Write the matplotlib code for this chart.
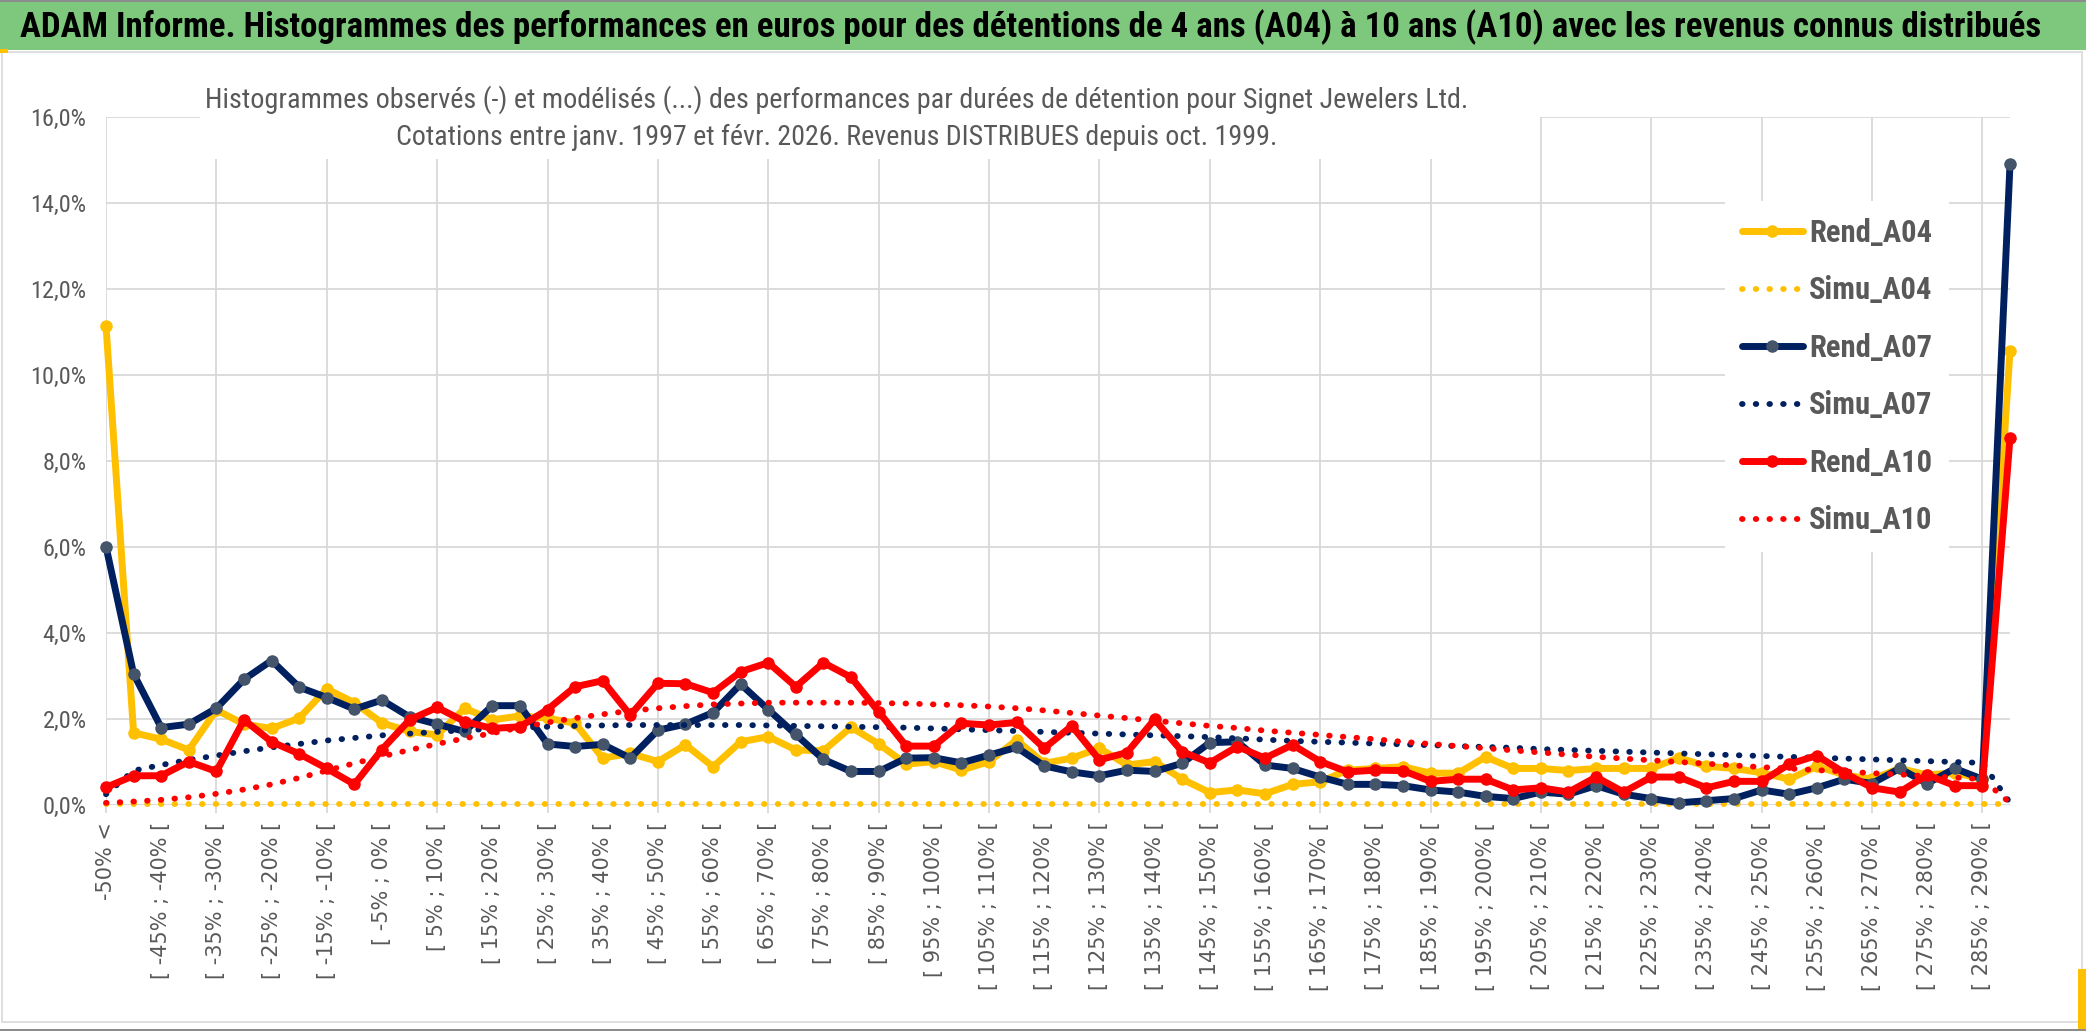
import logging
import matplotlib
matplotlib.use("Agg")
import matplotlib.pyplot as plt
from matplotlib.patches import Rectangle
from matplotlib.ticker import FuncFormatter

logging.getLogger("matplotlib.font_manager").setLevel(logging.ERROR)

# ---------------- data ----------------
categories = ["-50% <"] + ["[ %d%% ; %d%% [" % (a, a + 5) for a in range(-50, 290, 5)] + ["> 290%"]

rend_a04 = [11.15, 1.68, 1.53, 1.28, 2.21, 1.88, 1.78, 2.02, 2.70, 2.38,
            1.91, 1.71, 1.63, 2.25, 1.98, 2.07, 2.02, 1.90, 1.09, 1.20,
            1.01, 1.40, 0.89, 1.47, 1.59, 1.28, 1.26, 1.81, 1.42, 0.95,
            1.01, 0.81, 1.01, 1.51, 0.97, 1.09, 1.32, 0.93, 1.01, 0.60,
            0.29, 0.35, 0.26, 0.48, 0.54, 0.81, 0.85, 0.89, 0.74, 0.74,
            1.12, 0.85, 0.85, 0.80, 0.85, 0.85, 0.85, 1.10, 0.90, 0.85,
            0.75, 0.60, 0.90, 0.70, 0.60, 0.85, 0.70, 0.75, 0.60, 10.56]

simu_a04 = [0.03, 0.03, 0.03, 0.03, 0.03, 0.03, 0.03, 0.03, 0.03, 0.03,
            0.03, 0.03, 0.03, 0.03, 0.03, 0.03, 0.03, 0.03, 0.03, 0.03,
            0.03, 0.03, 0.03, 0.03, 0.03, 0.03, 0.03, 0.03, 0.03, 0.03,
            0.03, 0.03, 0.03, 0.03, 0.03, 0.03, 0.03, 0.03, 0.03, 0.03,
            0.03, 0.03, 0.03, 0.03, 0.03, 0.03, 0.03, 0.03, 0.03, 0.03,
            0.03, 0.03, 0.03, 0.03, 0.03, 0.03, 0.03, 0.03, 0.03, 0.03,
            0.03, 0.03, 0.03, 0.03, 0.03, 0.03, 0.03, 0.03, 0.03, 0.03]

rend_a07 = [6.01, 3.05, 1.80, 1.88, 2.25, 2.92, 3.36, 2.74, 2.50, 2.23,
            2.44, 2.05, 1.88, 1.71, 2.31, 2.31, 1.42, 1.36, 1.41, 1.09,
            1.74, 1.88, 2.15, 2.81, 2.22, 1.64, 1.06, 0.78, 0.78, 1.09,
            1.10, 0.98, 1.16, 1.34, 0.91, 0.77, 0.68, 0.81, 0.78, 0.97,
            1.45, 1.47, 0.93, 0.85, 0.65, 0.48, 0.48, 0.45, 0.35, 0.30,
            0.20, 0.15, 0.30, 0.25, 0.45, 0.25, 0.15, 0.05, 0.10, 0.15,
            0.35, 0.25, 0.40, 0.60, 0.50, 0.85, 0.50, 0.85, 0.60, 14.90]

simu_a07 = [0.25, 0.80, 0.93, 1.05, 1.15, 1.25, 1.34, 1.42, 1.50, 1.56,
            1.62, 1.66, 1.70, 1.74, 1.77, 1.80, 1.82, 1.84, 1.85, 1.86,
            1.86, 1.86, 1.86, 1.86, 1.85, 1.84, 1.83, 1.82, 1.81, 1.80,
            1.78, 1.76, 1.74, 1.72, 1.70, 1.68, 1.66, 1.64, 1.62, 1.60,
            1.58, 1.55, 1.52, 1.49, 1.47, 1.45, 1.43, 1.41, 1.39, 1.37,
            1.35, 1.33, 1.30, 1.28, 1.26, 1.24, 1.22, 1.20, 1.18, 1.16,
            1.14, 1.12, 1.10, 1.08, 1.06, 1.04, 1.02, 1.00, 0.98, 0.05]

rend_a10 = [0.41, 0.68, 0.68, 1.01, 0.78, 1.98, 1.47, 1.19, 0.85, 0.48,
            1.29, 1.98, 2.27, 1.94, 1.78, 1.82, 2.22, 2.75, 2.89, 2.09,
            2.83, 2.82, 2.61, 3.10, 3.31, 2.75, 3.31, 2.97, 2.17, 1.37,
            1.37, 1.90, 1.86, 1.92, 1.32, 1.84, 1.05, 1.22, 1.99, 1.24,
            0.98, 1.36, 1.09, 1.40, 1.01, 0.77, 0.81, 0.80, 0.55, 0.60,
            0.60, 0.35, 0.40, 0.30, 0.65, 0.30, 0.65, 0.65, 0.40, 0.55,
            0.55, 0.95, 1.15, 0.75, 0.40, 0.30, 0.70, 0.45, 0.45, 8.54]

simu_a10 = [0.05, 0.08, 0.12, 0.18, 0.26, 0.36, 0.48, 0.63, 0.80, 0.97,
            1.13, 1.28, 1.42, 1.55, 1.67, 1.80, 1.92, 2.02, 2.11, 2.19,
            2.25, 2.30, 2.34, 2.36, 2.38, 2.38, 2.38, 2.38, 2.37, 2.36,
            2.34, 2.32, 2.29, 2.25, 2.20, 2.14, 2.08, 2.02, 1.96, 1.90,
            1.84, 1.79, 1.73, 1.68, 1.63, 1.58, 1.53, 1.47, 1.42, 1.37,
            1.32, 1.27, 1.22, 1.17, 1.12, 1.08, 1.04, 1.00, 0.96, 0.92,
            0.88, 0.85, 0.81, 0.78, 0.74, 0.71, 0.67, 0.64, 0.60, 0.05]

series_names = ["Rend_A04", "Simu_A04", "Rend_A07", "Simu_A07", "Rend_A10", "Simu_A10"]
y_ticks = [0, 2, 4, 6, 8, 10, 12, 14, 16]

main_title = ("ADAM Informe. Histogrammes des performances en euros pour des détentions "
              "de 4 ans (A04) à 10 ans (A10) avec les revenus connus distribués")
chart_title_1 = ("Histogrammes observés (-) et modélisés (...) des performances par durées "
                 "de détention pour Signet Jewelers Ltd.")
chart_title_2 = "Cotations entre janv. 1997 et févr. 2026. Revenus DISTRIBUES depuis oct. 1999."

# ---------------- style ----------------
W, H, DPI = 2086, 1031, 100
GREEN = "#7DC87D"
YELLOW = "#FFC000"
NAVY = "#002060"
NAVY_MK = "#44546A"
RED = "#FF0000"
GRID = "#D9D9D9"
TXT = "#595959"
NARROW = ["Liberation Sans Narrow", "Roboto Condensed", "Open Sans Condensed",
          "Open Sans", "DejaVu Sans"]
plt.rcParams["font.family"] = NARROW


def fx(px):
    return px / W


def fy(py):
    return 1 - py / H


fig = plt.figure(figsize=(W / DPI, H / DPI), dpi=DPI, facecolor="white")

# top band + frame
fig.add_artist(Rectangle((0, fy(50)), 1, 50 / H, transform=fig.transFigure,
                         fc=GREEN, ec="none", zorder=0))
fig.add_artist(Rectangle((0, fy(2)), 1, 2 / H, transform=fig.transFigure,
                         fc="#8C8C8C", ec="none", zorder=0))
fig.add_artist(Rectangle((fx(2), fy(1022)), (2082 - 2) / W, (1022 - 52) / H,
                         transform=fig.transFigure, fc="none", ec=GRID, lw=1.2, zorder=0))
fig.add_artist(Rectangle((0, 0), 1, 2 / H, transform=fig.transFigure,
                         fc="#8C8C8C", ec="none", zorder=0))
fig.add_artist(Rectangle((fx(2078), fy(1029)), 8 / W, 60 / H, transform=fig.transFigure,
                         fc=YELLOW, ec="none", zorder=0))
fig.add_artist(Rectangle((fx(0), fy(53)), 8 / W, 4 / H, transform=fig.transFigure,
                         fc=YELLOW, ec="none", zorder=0))

t_main = fig.text(fx(20), fy(27), main_title, ha="left", va="center",
                  fontsize=26, fontweight="bold", color="black")

# ---------------- axes ----------------
ax = fig.add_axes([fx(106), fy(805), (2010 - 106) / W, (805 - 117) / H])
ax.set_facecolor("none")
n = len(categories)
x = list(range(n))
ax.set_xlim(0, n - 1)
ax.set_ylim(y_ticks[0], y_ticks[-1])
for s in ax.spines.values():
    s.set_visible(False)
ax.set_axisbelow(True)

ax.set_yticks(y_ticks)
ax.yaxis.set_major_formatter(FuncFormatter(lambda v, p: ("%.1f" % v).replace(".", ",") + "%"))
ax.tick_params(axis="y", length=0, pad=14, labelsize=17.5, labelcolor=TXT)
ax.yaxis.grid(True, color=GRID, lw=1.3)

ax.set_xticks(x[::2])
ax.set_xticklabels(categories[::2], rotation=90, fontfamily="DejaVu Sans",
                   fontsize=15, color=TXT)
ax.tick_params(axis="x", which="major", length=0, pad=12)
ax.xaxis.remove_overlapping_locs = False
ax.set_xticks(x[::4], minor=True)
ax.tick_params(axis="x", which="minor", length=6, width=1.3, color=GRID)
ax.xaxis.grid(True, which="minor", color=GRID, lw=1.3)

solid_kw = dict(lw=5.0, marker="o", ms=8, solid_joinstyle="round",
                solid_capstyle="round", clip_on=False)
dot_kw = dict(lw=4.2, linestyle=(0, (0.1, 2.25)), dash_capstyle="round", clip_on=False)

data = [rend_a04, simu_a04, rend_a07, simu_a07, rend_a10, simu_a10]
styles = [
    dict(color=YELLOW, mfc=YELLOW, mec=YELLOW, **solid_kw),
    dict(color=YELLOW, **dot_kw),
    dict(color=NAVY, mfc=NAVY_MK, mec=NAVY_MK, **solid_kw),
    dict(color=NAVY, **dot_kw),
    dict(color=RED, mfc=RED, mec=RED, **solid_kw),
    dict(color=RED, **dot_kw),
]
handles = []
for i, (vals, st, name) in enumerate(zip(data, styles, series_names)):
    ln, = ax.plot(x, vals, label=name, zorder=3 + i, **st)
    handles.append(ln)

# chart title with white box (covers gridlines like the original)
fig.add_artist(Rectangle((fx(200), fy(159)), (1540 - 200) / W, (159 - 60) / H,
                         transform=fig.transFigure, fc="white", ec="none", zorder=1))
t1 = fig.text(fx(837), fy(100), chart_title_1, ha="center", va="center",
              fontsize=19, color=TXT, zorder=2)
t2 = fig.text(fx(837), fy(137), chart_title_2, ha="center", va="center",
              fontsize=19, color=TXT, zorder=2)

leg = fig.legend(handles, series_names, loc="upper left",
                 bbox_to_anchor=(fx(1725), fy(201)), bbox_transform=fig.transFigure,
                 frameon=True, fancybox=False, framealpha=1, edgecolor="none",
                 facecolor="white", borderaxespad=0, borderpad=0.55,
                 prop=dict(family=NARROW, weight="bold", size=22),
                 handlelength=2.0, handletextpad=0.2, labelspacing=0.90,
                 numpoints=1)
for t in leg.get_texts():
    t.set_color(TXT)
leg.set_zorder(10)

# fit text widths to the reference
fig.canvas.draw()
r = fig.canvas.get_renderer()
for t, target in [(t_main, 2025), (t1, 1263), (t2, 884)]:
    bb = t.get_window_extent(r)
    t.set_fontsize(t.get_fontsize() * target / bb.width)

fig.savefig("out.png", dpi=DPI, facecolor="white")
